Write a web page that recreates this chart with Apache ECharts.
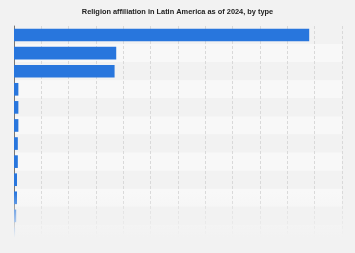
<!DOCTYPE html>
<html>
<head>
<meta charset="utf-8">
<script src="https://cdn.jsdelivr.net/npm/echarts@6/dist/echarts.min.js"></script>
<style>
  html, body { margin: 0; padding: 0; background: #f2f2f2; }
  #chart { width: 355px; height: 253px; }
</style>
</head>
<body>
<div id="chart"></div>
<script>
// religion types, top to bottom (labels are hidden in the reference)
const categories = ['Catholic', 'Evangelical', 'No religion', 'Believer, no church', 'Atheist', 'Agnostic',
    'Other Christian', 'Jehovah\'s Witness', 'Other religion', 'Mormon', 'Jewish', 'Muslim'];
const shares = [54, 18.7, 18.4, 0.8, 0.8, 0.8, 0.7, 0.7, 0.55, 0.55, 0.4, 0.2];

const chart = echarts.init(document.getElementById('chart'));

chart.setOption({
    backgroundColor: '#f2f2f2',
    animation: false,
    title: {
        text: 'Religion affiliation in Latin America as of 2024, by type',
        left: 'center',
        top: 3,
        textStyle: { fontSize: 7.4, fontWeight: 'bold', color: '#222', fontFamily: 'Arial, Liberation Sans, sans-serif' }
    },
    grid: { left: 14, right: 13, top: 26, bottom: 10, containLabel: false },
    xAxis: {
        type: 'value',
        min: 0,
        max: 60,
        interval: 5,
        axisLabel: { show: false },
        axisLine: { show: false },
        axisTick: { show: false },
        splitLine: { show: true, lineStyle: { color: '#d9d9d9', type: [3, 2], width: 1 } }
    },
    yAxis: {
        type: 'category',
        inverse: true,
        data: categories,
        axisLabel: { show: false },
        axisTick: { show: false },
        axisLine: { show: true, lineStyle: { color: '#777', width: 1 } },
        splitArea: { show: true, areaStyle: { color: ['#f2f2f2', '#f8f8f8'] } }
    },
    series: [{
        type: 'bar',
        data: shares,
        barCategoryGap: '30%',
        itemStyle: { color: '#2876dd' }
    }],
    graphic: [{
        type: 'rect',
        z: 100,
        silent: true,
        shape: { x: 0, y: 192, width: 355, height: 61 },
        style: {
            fill: new echarts.graphic.LinearGradient(0, 0, 0, 1, [
                { offset: 0, color: 'rgba(242,242,242,0)' },
                { offset: 0.75, color: 'rgba(242,242,242,1)' },
                { offset: 1, color: 'rgba(242,242,242,1)' }
            ])
        }
    }]
});
</script>
</body>
</html>
